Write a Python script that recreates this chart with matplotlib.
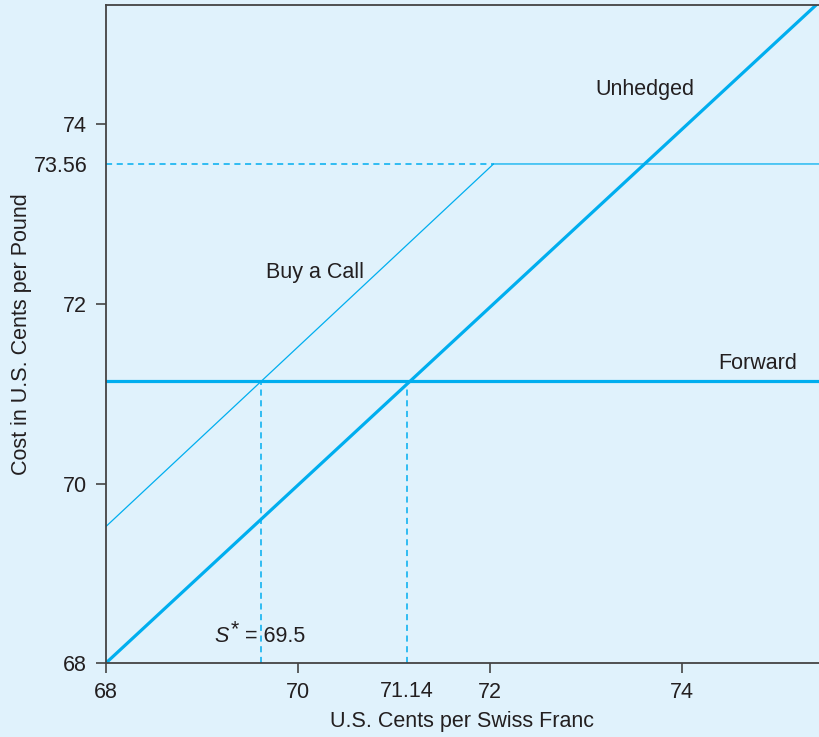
import matplotlib.pyplot as plt

plt.rcParams['font.family'] = ['Liberation Sans', 'DejaVu Sans']

# exchange rate (US cents per Swiss franc) vs cost (US cents per pound)
unhedged_x = [68, 75.43]
unhedged_y = [68, 75.36]

forward_rate = 71.14
forward_x = [68, 75.45]

call_x = [68, 72.04, 75.45]
call_y = [69.52, 73.56, 73.56]

s_star = 69.62
cap = 73.56

xticks = [68, 70, 72, 74]
yticks = [68, 70, 72, 74]
xextra = [71.14]
yextra = [73.56]

bg = '#e0f2fc'
blue = '#00aeef'
ink = '#231f20'
fs = 15.5

fig = plt.figure(figsize=(8.19, 7.37), dpi=100, facecolor=bg)
ax = fig.add_axes([0.129, 0.1, 0.871, 0.8932])
ax.set_facecolor(bg)

ax.plot(unhedged_x, unhedged_y, color=blue, lw=2.3, solid_capstyle='butt')
ax.plot(forward_x, [forward_rate, forward_rate], color=blue, lw=2.3)
ax.plot(call_x, call_y, color=blue, lw=0.9)

# guide lines
dash = (0, (4, 3))
ax.plot([68, call_x[1]], [cap, cap], color=blue, lw=1.1, ls=dash)
ax.plot([s_star, s_star], [68, forward_rate], color=blue, lw=1.1, ls=dash)
ax.plot([forward_rate, forward_rate], [68, forward_rate], color=blue, lw=1.1, ls=dash)

ax.text(73.62, 74.39, 'Unhedged', fontsize=fs, color=ink, ha='center', va='center')
ax.text(70.18, 72.35, 'Buy a Call', fontsize=fs, color=ink, ha='center', va='center')
ax.text(74.79, 71.34, 'Forward', fontsize=fs, color=ink, ha='center', va='center')
# S* label: italic S, raised asterisk, then the value
ax.text(69.13, 68.30, 'S', fontsize=fs, style='italic', color=ink, ha='left', va='center')
ax.text(69.30, 68.37, '*', fontsize=fs, color=ink, ha='left', va='center')
ax.text(69.45, 68.30, '= 69.5', fontsize=fs, color=ink, ha='left', va='center')

ax.set_xlim(68, 75.43)
ax.set_ylim(68, 75.33)

ax.set_xticks(xticks)
ax.set_yticks(yticks)
ax.set_xticks(xextra, minor=True)
ax.set_yticks(yextra, minor=True)
ax.set_xticklabels([str(v) for v in xticks])
ax.set_yticklabels([str(v) for v in yticks])
ax.set_xticklabels([f'{v:.2f}' for v in xextra], minor=True)
ax.set_yticklabels([f'{v:.2f}' for v in yextra], minor=True)
ax.tick_params(which='major', direction='out', length=7.5, width=1.2, color='#444444',
               labelsize=fs, labelcolor=ink, pad=6)
ax.tick_params(which='minor', length=0, labelsize=fs, labelcolor=ink, pad=13)

for side in ['left', 'bottom', 'top']:
    ax.spines[side].set_color('#444444')
    ax.spines[side].set_linewidth(1.3)
ax.spines['right'].set_visible(False)

ax.set_xlabel('U.S. Cents per Swiss Franc', fontsize=fs, color=ink, labelpad=6)
ax.set_ylabel('Cost in U.S. Cents per Pound', fontsize=fs, color=ink, labelpad=1)

fig.savefig('out.png', dpi=100, facecolor=bg)
